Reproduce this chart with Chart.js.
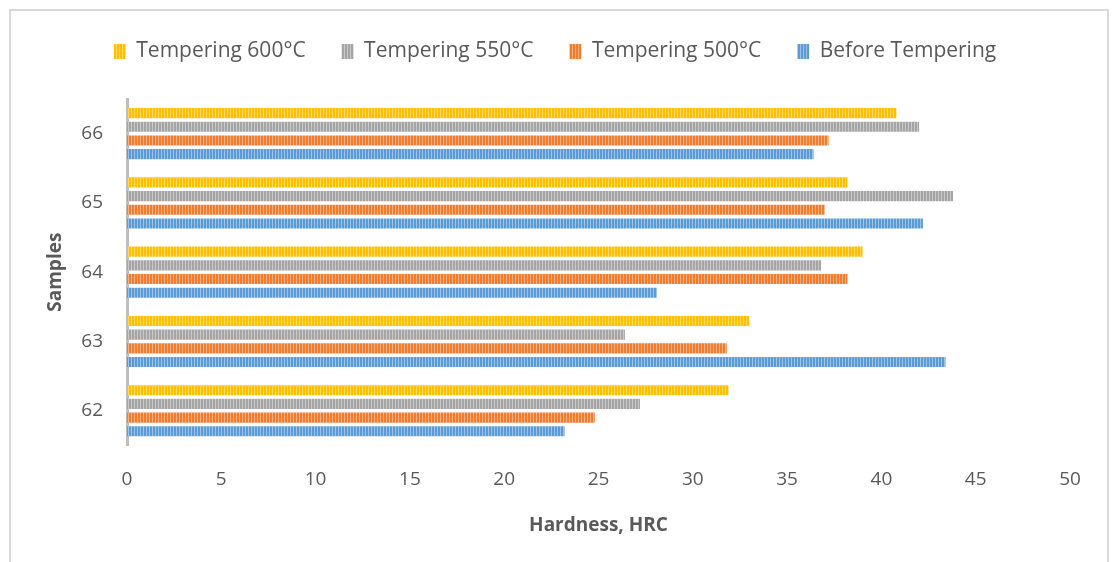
<!DOCTYPE html>
<html>
<head>
  <title>Hardness by Sample</title>
  <script src="https://cdn.jsdelivr.net/npm/chart.js"></script>
  <style>
    body {
      margin: 0;
      background: white;
    }

    .frame {
      position: absolute;
      left: 9px;
      top: 9px;
      width: 1096px;
      height: 600px;
      border: 2px solid #d9d9d9;
      border-bottom: none;
    }

    canvas {
      position: absolute;
      left: 0;
      top: 0;
    }
  </style>
</head>
<body>

  <div class="frame"></div>
  <canvas id="hardnessChart" width="1113" height="562"></canvas>

  <script>
    // samples, top to bottom as drawn
    const samples = ["66", "65", "64", "63", "62"];

    const tempering600 = [40.8, 38.2, 39.0, 33.0, 31.9];
    const tempering550 = [42.0, 43.8, 36.8, 26.4, 27.2];
    const tempering500 = [37.2, 37.0, 38.2, 31.8, 24.8];
    const beforeTempering = [36.4, 42.2, 28.1, 43.4, 23.2];

    const xTicks = [0, 5, 10, 15, 20, 25, 30, 35, 40, 45, 50];

    const textFont = "'Open Sans', sans-serif";

    // excel-ish vertical stripe fill
    function stripes(color, light) {
      const c = document.createElement("canvas");
      c.width = 3;
      c.height = 10;
      const g = c.getContext("2d");
      g.fillStyle = color;
      g.fillRect(0, 0, 3, 10);
      g.fillStyle = light;
      g.fillRect(2, 0, 1, 10);
      return g.createPattern(c, "repeat");
    }

    const fills = {
      yellow: stripes("#ffc000", "#ffd966"),
      gray: stripes("#a5a5a5", "#c9c9c9"),
      orange: stripes("#ed7d31", "#f4b183"),
      blue: stripes("#5b9bd5", "#9dc3e6")
    };

    const legendSpace = {
      id: "legendSpace",
      beforeInit(chart) {
        const fit = chart.legend.fit;
        chart.legend.fit = function () {
          fit.bind(chart.legend)();
          this.height += 27;
        };
      }
    };

    const ctx = document.getElementById("hardnessChart").getContext("2d");
    const hardnessChart = new Chart(ctx, {
      type: "bar",
      data: {
        labels: samples,
        datasets: [
          { label: "Tempering 600°C", data: tempering600, backgroundColor: fills.yellow },
          { label: "Tempering 550°C", data: tempering550, backgroundColor: fills.gray },
          { label: "Tempering 500°C", data: tempering500, backgroundColor: fills.orange },
          { label: "Before Tempering", data: beforeTempering, backgroundColor: fills.blue }
        ]
      },
      options: {
        indexAxis: "y",
        responsive: false,
        animation: false,
        barPercentage: 0.74,
        categoryPercentage: 0.79,
        layout: {
          padding: { left: 40, right: 43, top: 5, bottom: 25 }
        },
        plugins: {
          legend: {
            position: "top",
            labels: {
              boxWidth: 12,
              boxHeight: 15,
              padding: 36,
              color: "#595959",
              font: { family: textFont, size: 21 }
            }
          },
          tooltip: { enabled: false }
        },
        scales: {
          x: {
            min: 0,
            max: 50,
            afterBuildTicks(scale) {
              scale.ticks = xTicks.map(v => ({ value: v }));
            },
            grid: { display: false, drawTicks: false },
            border: { display: false },
            ticks: {
              padding: 23,
              color: "#595959",
              font: { family: textFont, size: 19 }
            },
            title: {
              display: true,
              text: "Hardness, HRC",
              color: "#595959",
              padding: { top: 0, bottom: 0 },
              font: { family: textFont, size: 19, weight: "bold" }
            }
          },
          y: {
            afterFit(scale) {
              scale.width = 87;
            },
            grid: { display: false, drawTicks: false },
            border: { display: true, color: "#bfbfbf", width: 3 },
            ticks: {
              padding: 24,
              color: "#595959",
              font: { family: textFont, size: 19 }
            },
            title: {
              display: true,
              text: "Samples",
              color: "#595959",
              padding: { top: 4, bottom: 0 },
              font: { family: textFont, size: 19, weight: "bold" }
            }
          }
        }
      },
      plugins: [legendSpace]
    });
  </script>

</body>
</html>
